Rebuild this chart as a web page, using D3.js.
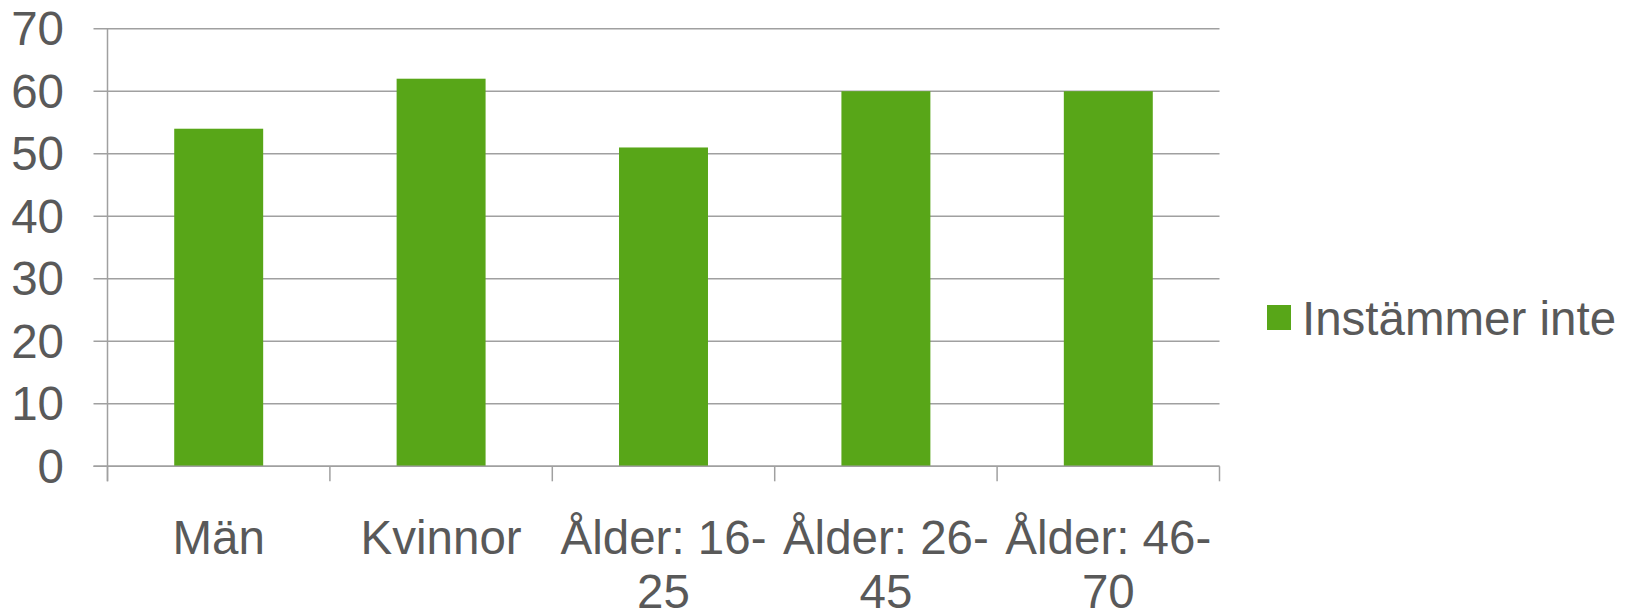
<!DOCTYPE html>
<html>
<head>
<meta charset="utf-8">
<script src="https://cdn.jsdelivr.net/npm/d3@7"></script>
<style>
  html, body { margin: 0; padding: 0; background: #fff; }
  svg { display: block; }
  text { font-family: "Liberation Sans", Arial, sans-serif; fill: #595959; }
</style>
</head>
<body>
<svg id="chart" width="1637" height="612"></svg>
<script>
const categories = ["Män", "Kvinnor", "Ålder: 16-25", "Ålder: 26-45", "Ålder: 46-70"];
const values = [54, 62, 51, 60, 60];
const seriesName = "Instämmer inte";
const yTicks = [0, 10, 20, 30, 40, 50, 60, 70];

(function () {
const svg = d3.select("#chart");
const pLeft = 107.5, pRight = 1219.5, pTop = 28.7, pBottom = 466.3;
const gridColor = "#a0a0a0";
const barColor = "#58a618";
const fs = 47.5;

const x = d3.scaleBand().domain(categories).range([pLeft, pRight]).paddingInner(0.6).paddingOuter(0.3);
const y = d3.scaleLinear().domain([0, 70]).range([pBottom, pTop]);

// gridlines + y tick marks
svg.append("g").selectAll("line").data(yTicks).join("line")
  .attr("x1", pLeft - 14).attr("x2", pRight)
  .attr("y1", d => y(d)).attr("y2", d => y(d))
  .attr("stroke", gridColor).attr("stroke-width", 1.5);

// y axis line
svg.append("line").attr("x1", pLeft).attr("x2", pLeft)
  .attr("y1", pTop).attr("y2", pBottom + 15)
  .attr("stroke", gridColor).attr("stroke-width", 1.5);

// y labels
svg.append("g").selectAll("text").data(yTicks).join("text")
  .attr("x", 64).attr("y", d => y(d))
  .attr("text-anchor", "end").attr("dominant-baseline", "central")
  .attr("font-size", fs).text(d => d);

// category tick marks (boundaries)
const n = categories.length;
const bw = (pRight - pLeft) / n;
const bounds = d3.range(n + 1).map(i => pLeft + i * bw);
svg.append("g").selectAll("line").data(bounds).join("line")
  .attr("x1", d => d).attr("x2", d => d)
  .attr("y1", pBottom).attr("y2", pBottom + 15)
  .attr("stroke", gridColor).attr("stroke-width", 1.5);

// bars
svg.append("g").selectAll("rect").data(categories).join("rect")
  .attr("x", d => x(d)).attr("width", x.bandwidth())
  .attr("y", (d, i) => y(values[i])).attr("height", (d, i) => y(0) - y(values[i]))
  .attr("fill", barColor);

// x axis line on top of bars
svg.append("line").attr("x1", pLeft - 14).attr("x2", pRight)
  .attr("y1", pBottom).attr("y2", pBottom)
  .attr("stroke", gridColor).attr("stroke-width", 1.5);

// category labels (wrapped after hyphen)
categories.forEach((c, i) => {
  const cx = pLeft + bw * (i + 0.5);
  const m = c.match(/^(.*-)(.+)$/);
  const lines = m ? [m[1], m[2]] : [c];
  const t = svg.append("text").attr("text-anchor", "middle").attr("font-size", fs);
  lines.forEach((l, j) => {
    t.append("tspan").attr("x", cx).attr("y", 554 + j * 54).text(l);
  });
});

// legend
svg.append("rect").attr("x", 1267).attr("y", 305).attr("width", 24).attr("height", 25).attr("fill", barColor);
svg.append("text").attr("x", 1302).attr("y", 335).attr("font-size", fs).text(seriesName);
})();
</script>
</body>
</html>
